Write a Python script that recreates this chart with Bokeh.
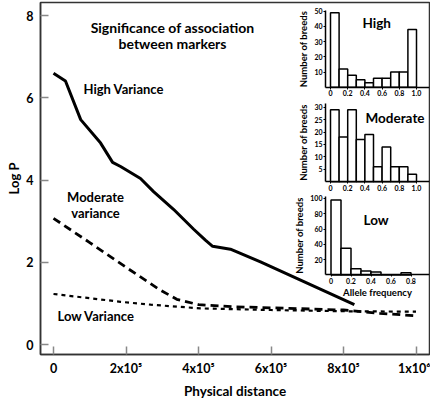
from bokeh.plotting import figure
from bokeh.models import Range1d, LinearAxis, FixedTicker, Label
from bokeh.embed import file_html
from bokeh.resources import INLINE

# ---------------- data ----------------
high_x = [0, 33000, 75000, 130000, 163000, 185000, 240000, 276000, 331000,
          386000, 419000, 439000, 488000, 571000, 830000]
high_y = [6.60, 6.41, 5.47, 4.90, 4.43, 4.33, 4.04, 3.72, 3.29,
          2.81, 2.54, 2.39, 2.32, 2.01, 0.97]
mod_x = [0, 100000, 200000, 290000, 340000, 400000, 500000, 650000, 800000, 900000, 1000000]
mod_y = [3.07, 2.48, 1.88, 1.35, 1.10, 0.97, 0.92, 0.88, 0.84, 0.76, 0.70]
low_x = [0, 185000, 268000, 405000, 600000, 800000, 1000000]
low_y = [1.23, 1.04, 0.97, 0.88, 0.84, 0.81, 0.80]

main_xticks = [0, 200000, 400000, 600000, 800000, 1000000]
main_xtick_labels = ["0", "2x10\u2075", "4x10\u2075", "6x10\u2075", "8x10\u2075", "1x10\u2076"]
main_yticks = [0, 2, 4, 6, 8]

bin_left = [0.0, 0.1, 0.2, 0.3, 0.4, 0.5, 0.6, 0.7, 0.8, 0.9]
bin_width = 0.1
high_counts = [49, 12, 8, 5, 3, 6, 6, 10, 10, 38]
mod_counts = [29, 18, 29, 17, 19, 6, 14, 6, 6, 3]
low_counts = [98, 35, 8, 5, 4, 0, 0, 3]

hist_xticks = [0, 0.2, 0.4, 0.6, 0.8, 1.0]
hist_xtick_labels = ["0", "0.2", "0.4", "0.6", "0.8", "1.0"]
low_xticks = [0, 0.2, 0.4, 0.6, 0.8]
high_yticks = [10, 20, 30, 40, 50]
mod_yticks = [5, 10, 15, 20, 25, 30]
low_yticks = [20, 40, 60, 80, 100]

# ---------------- layout (screen px of the page) ----------------
W, H = 430, 401
FL, FR, FT, FB = 40, 429, 2, 356   # frame edges on the page

def mx(px):
    return (px - 53) / 72.5 * 2e5

def my(py):
    return (346 - py) / 41.35

FONT = "Lato"

p = figure(width=W, height=H, output_backend="svg", toolbar_location=None,
           x_range=Range1d(mx(FL), mx(FR)), y_range=Range1d(my(FB), my(FT)),
           min_border_left=FL, min_border_right=W - FR,
           min_border_top=FT, min_border_bottom=H - FB)
p.xgrid.grid_line_color = None
p.ygrid.grid_line_color = None
p.outline_line_color = "#333333"
p.outline_line_width = 1.5
p.background_fill_color = "white"
p.border_fill_color = "white"

# main axes
xa = p.xaxis[0]
xa.ticker = FixedTicker(ticks=main_xticks)
xa.major_label_overrides = dict(zip(main_xticks, main_xtick_labels))
xa.axis_label = "Physical distance"
ya = p.yaxis[0]
ya.ticker = FixedTicker(ticks=main_yticks)
ya.axis_label = "Log P"
for ax in (xa, ya):
    ax.major_tick_in = 8
    ax.major_tick_out = 0
    ax.minor_tick_line_color = None
    ax.major_tick_line_color = "#888888"
    ax.major_tick_line_width = 1.5
    ax.axis_line_color = "#333333"
    ax.axis_line_width = 1.5
    ax.major_label_text_font = FONT
    ax.major_label_text_font_style = "bold"
    ax.major_label_text_font_size = "12.5px"
    ax.major_label_text_color = "black"
    ax.axis_label_text_font = FONT
    ax.axis_label_text_font_style = "bold"
    ax.axis_label_text_font_size = "13.5px"
    ax.axis_label_text_color = "black"
ya.axis_label_text_font_size = "13px"
xa.major_label_standoff = 6
xa.axis_label_standoff = 4
ya.major_label_standoff = 7
ya.axis_label_standoff = 1

# main curves
p.line(high_x, high_y, line_color="black", line_width=3)
p.line(mod_x, mod_y, line_color="black", line_width=2.8, line_dash="8 5")
p.line(low_x, low_y, line_color="black", line_width=2.2, line_dash="4 4")

def lab(text, px, py, size="13px", align="left"):
    p.add_layout(Label(x=mx(px), y=my(py), text=text, text_font=FONT,
                       text_font_style="bold", text_font_size=size,
                       text_align=align, text_baseline="middle", text_color="black"))

lab("Significance of association", 172, 27, "14px", "center")
lab("between markers", 172, 43, "14px", "center")
lab("High Variance", 83, 89)
lab("Moderate", 95, 198, align="center")
lab("variance", 95, 214, align="center")
lab("Low Variance", 57, 317)

# ---------------- insets ----------------
insets = [
    dict(name="hi", counts=high_counts, title="High", x0=330, xppu=86, y0=87.3, yppu=1.53,
         yticks=high_yticks, ytop=50.6, xticks=hist_xticks, title_px=(362, 23), xlabel=None),
    dict(name="mod", counts=mod_counts, title="Moderate", x0=330, xppu=86, y0=182.3, yppu=2.5,
         yticks=mod_yticks, ytop=31.5, xticks=hist_xticks, title_px=(365, 118), xlabel=None),
    dict(name="low", counts=low_counts, title="Low", x0=330.5, xppu=100, y0=276, yppu=0.77,
         yticks=low_yticks, ytop=102.5, xticks=low_xticks, title_px=(363, 221),
         xlabel="Allele frequency"),
]

for ins in insets:
    xr, yr = ins["name"] + "_x", ins["name"] + "_y"
    x0, xppu, y0, yppu = ins["x0"], ins["xppu"], ins["y0"], ins["yppu"]
    p.extra_x_ranges[xr] = Range1d((FL - x0) / xppu, (FR - x0) / xppu)
    p.extra_y_ranges[yr] = Range1d((y0 - FB) / yppu, (y0 - FT) / yppu)
    n = len(ins["counts"])
    lefts = bin_left[:n]
    rights = [b + bin_width for b in lefts]
    p.quad(left=lefts, right=rights, bottom=0, top=ins["counts"],
           x_range_name=xr, y_range_name=yr,
           fill_color="white", line_color="black", line_width=1.5)
    axis_x = (325 - x0) / xppu
    yax = LinearAxis(x_range_name=xr, y_range_name=yr, fixed_location=axis_x,
                     bounds=(0, ins["ytop"]), ticker=FixedTicker(ticks=ins["yticks"]),
                     axis_label="Number of breeds")
    xax = LinearAxis(x_range_name=xr, y_range_name=yr, fixed_location=0,
                     bounds=(axis_x, (FR - x0) / xppu), ticker=FixedTicker(ticks=ins["xticks"]),
                     major_label_overrides=dict(zip(hist_xticks, hist_xtick_labels)),
                     axis_label=ins["xlabel"])
    for ax in (yax, xax):
        ax.axis_line_color = "black"
        ax.axis_line_width = 1.5
        ax.major_tick_line_color = "black"
        ax.major_tick_line_width = 1
        ax.major_tick_in = 0
        ax.major_tick_out = 2
        ax.minor_tick_line_color = None
        ax.major_label_text_font = FONT
        ax.major_label_text_font_style = "bold"
        ax.major_label_text_font_size = "7px"
        ax.major_label_text_color = "black"
        ax.major_label_standoff = 1
        ax.axis_label_text_font = FONT
        ax.axis_label_text_font_style = "bold"
        ax.axis_label_text_font_size = "9.5px"
        ax.axis_label_text_color = "black"
        ax.axis_label_standoff = 2
    xax.axis_label_standoff = 0
    p.add_layout(yax, "left")
    p.add_layout(xax, "below")
    tx, ty = ins["title_px"]
    p.add_layout(Label(x=(tx - x0) / xppu, y=(y0 - ty) / yppu, x_range_name=xr, y_range_name=yr,
                       text=ins["title"], text_font=FONT, text_font_style="bold",
                       text_font_size="13.5px", text_align="left", text_baseline="middle",
                       text_color="black"))

open("out.html", "w").write(file_html(p, INLINE))
